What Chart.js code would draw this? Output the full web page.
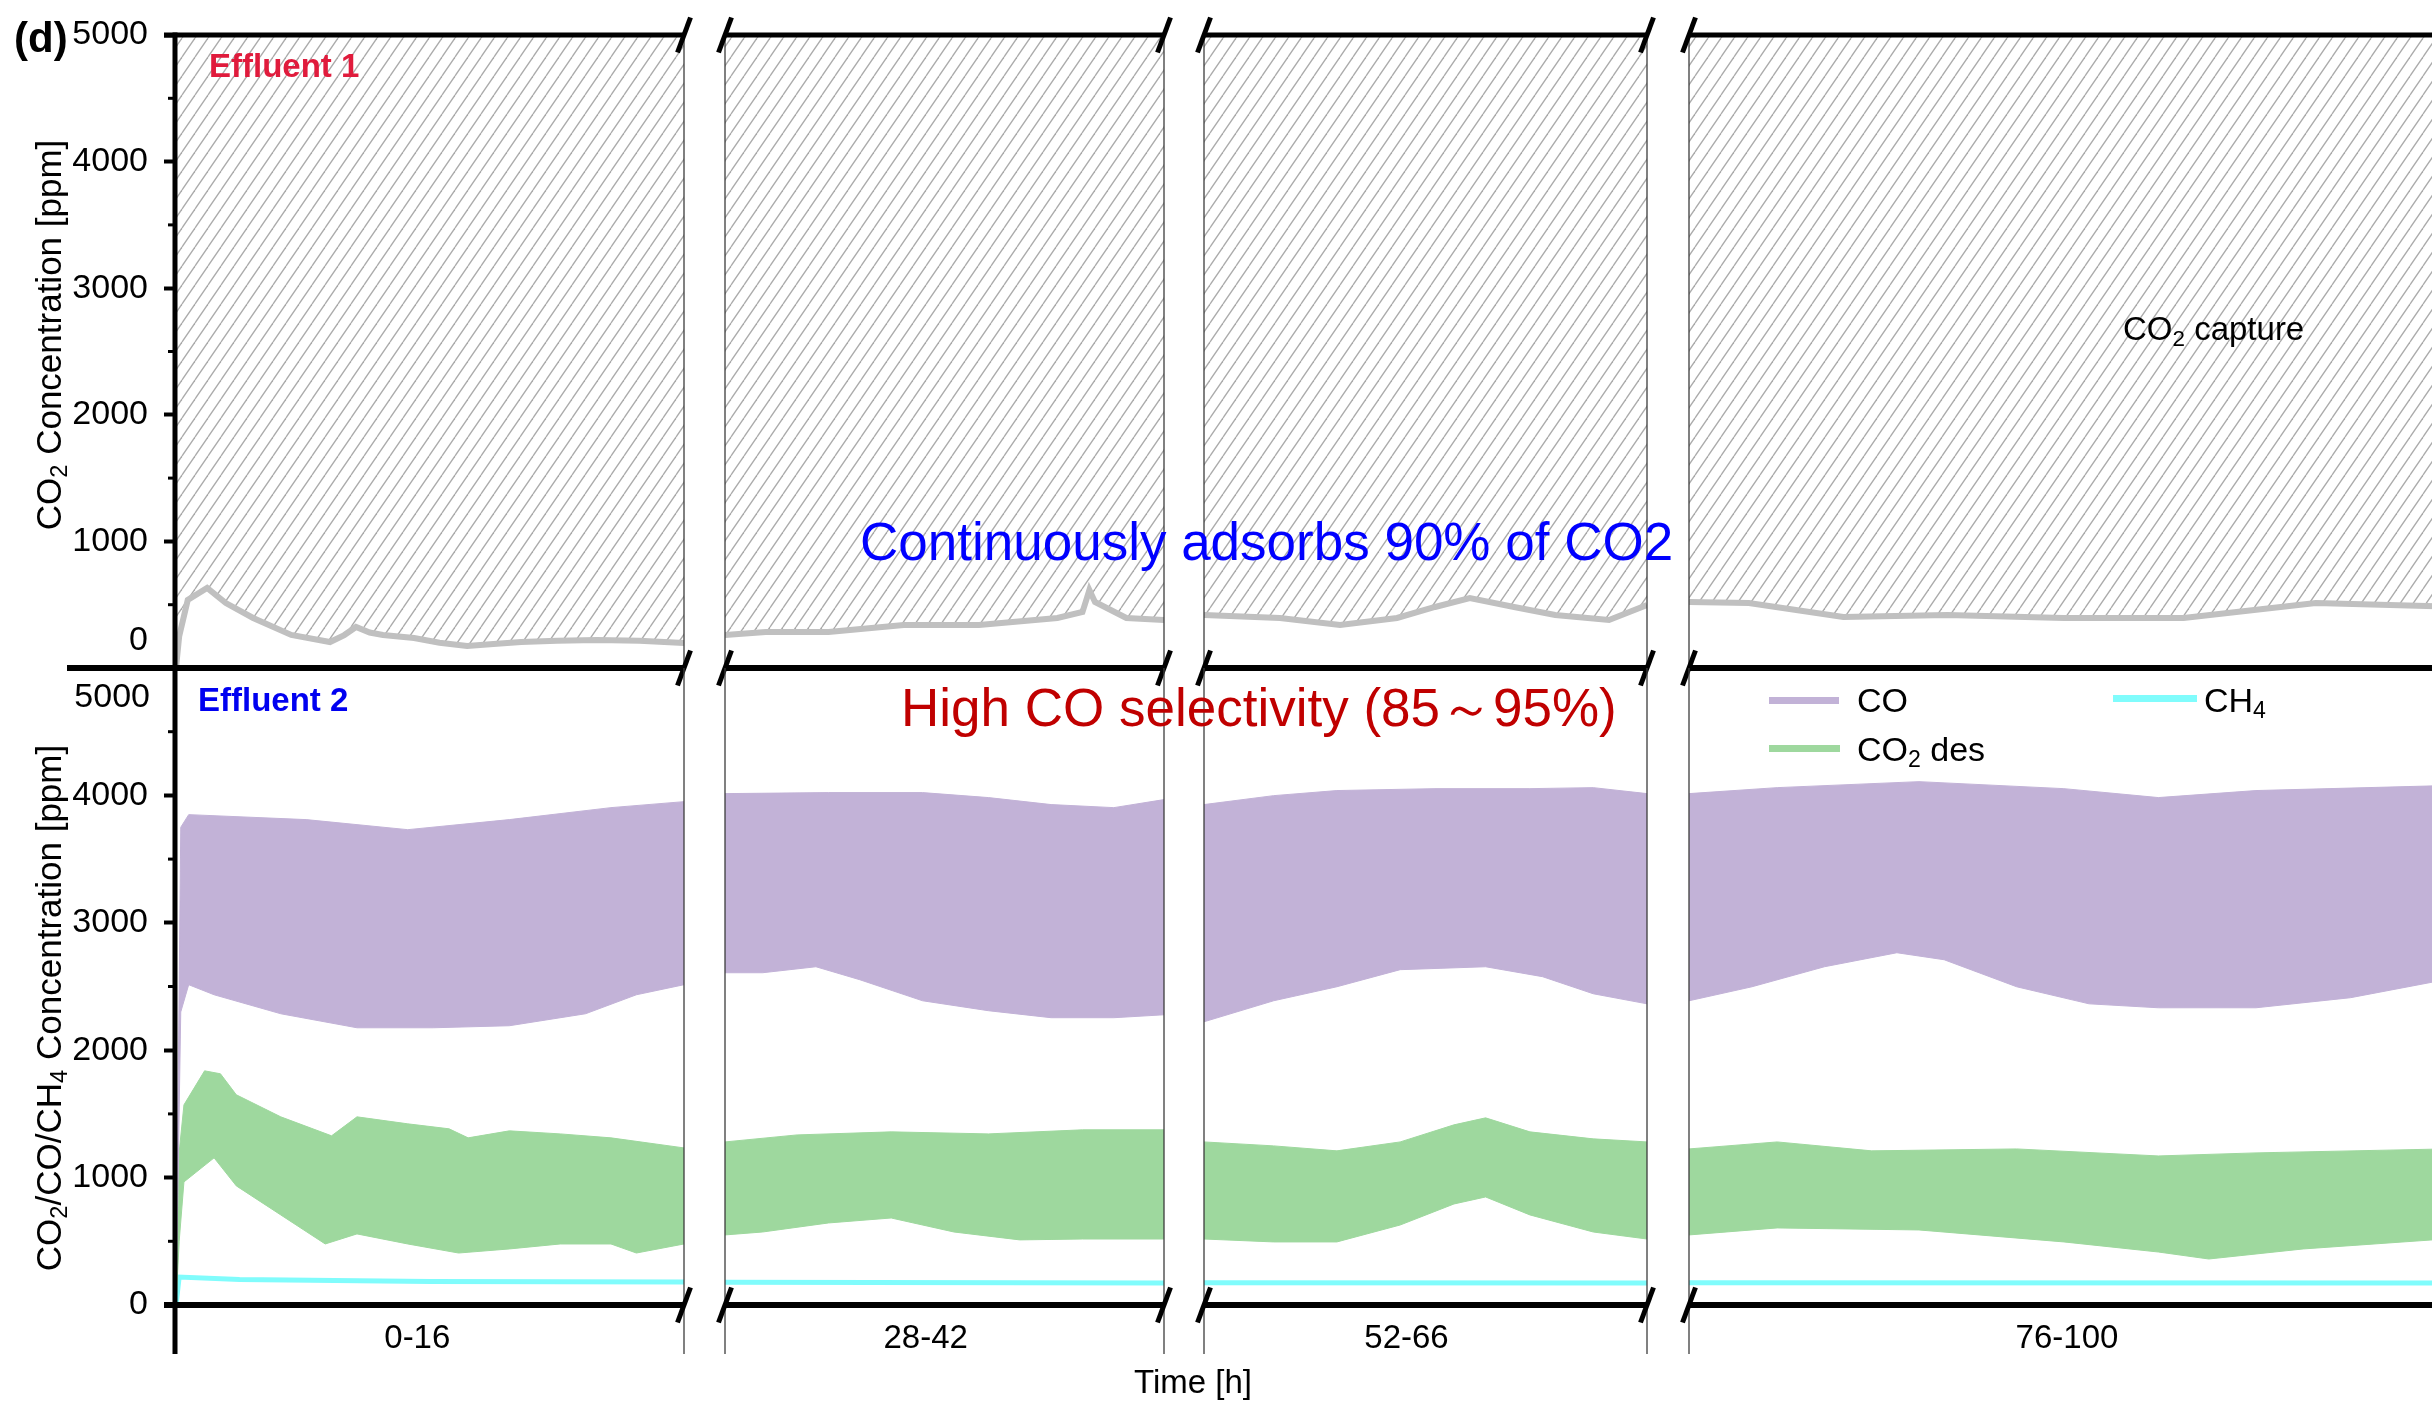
<!DOCTYPE html>
<html>
<head>
<meta charset="utf-8">
<script src="https://cdn.jsdelivr.net/npm/chart.js@4.4.1/dist/chart.umd.min.js"></script>
<style>
html, body { margin: 0; padding: 0; background: #fff; overflow: hidden; width: 2432px; height: 1401px; }
body { position: relative; font-family: "Liberation Sans", Arial, sans-serif; }
canvas { position: absolute; }
.txt { position: absolute; white-space: nowrap; line-height: 1; color: #000; z-index: 5; }
.txt sub { font-size: 0.68em; vertical-align: -0.28em; line-height: 0; }
.sw { position: absolute; height: 7px; z-index: 5; }
</style>
</head>
<body>

<div class="txt" style="left:14px;top:38px;font-size:42px;font-weight:bold;transform:translateY(-50%)">(d)</div>
<div class="txt" style="left:209px;top:65px;font-size:33px;font-weight:bold;color:#e01b3c;transform:translateY(-50%)">Effluent 1</div>
<div class="txt" style="left:198px;top:699px;font-size:33px;font-weight:bold;color:#0000f0;transform:translateY(-50%)">Effluent 2</div>
<div class="txt" style="left:860px;top:541px;font-size:53px;color:#0000ff;transform:translateY(-50%)">Continuously adsorbs 90% of CO2</div>
<div class="txt" style="left:901px;top:707px;font-size:53px;color:#c00000;transform:translateY(-50%)">High CO selectivity (85～95%)</div>
<div class="txt" style="left:2123px;top:328px;font-size:33px;transform:translateY(-50%)">CO<sub>2</sub> capture</div>
<div class="txt" style="left:1193px;top:1381px;font-size:33px;transform:translate(-50%,-50%)">Time [h]</div>
<div class="txt" style="left:48px;top:335px;font-size:35px;transform:translate(-50%,-50%) rotate(-90deg)">CO<sub>2</sub> Concentration [ppm]</div>
<div class="txt" style="left:48px;top:1008px;font-size:35px;transform:translate(-50%,-50%) rotate(-90deg)">CO<sub>2</sub>/CO/CH<sub>4</sub> Concentration [ppm]</div>

<div class="sw" id="swCO" style="left:1769px;top:697px;width:70px"></div>
<div class="txt" style="left:1857px;top:700px;font-size:34px;transform:translateY(-50%)">CO</div>
<div class="sw" id="swCO2" style="left:1769px;top:745px;width:71px"></div>
<div class="txt" style="left:1857px;top:749px;font-size:34px;transform:translateY(-50%)">CO<sub>2</sub> des</div>
<div class="sw" id="swCH4" style="left:2113px;top:695px;width:84px"></div>
<div class="txt" style="left:2204px;top:700px;font-size:34px;transform:translateY(-50%)">CH<sub>4</sub></div>

<script>
// x segments of the broken time axis (hours) and their labels
const segments = [[0, 16], [28, 42], [52, 66], [76, 100]];
const segLabels = ['0-16', '28-42', '52-66', '76-100'];
const segLabelAt = [7.6, 34.4, 58.4, 88];
const minorTicks = [500, 1500, 2500, 3500, 4500];

// Effluent 1: CO2 after capture [hour, ppm]
const effluent1 = [
    [0, 0], [0.1, 250], [0.37, 537], [0.98, 632], [1.57, 513], [2.43, 395], [3.63, 261], [4.85, 205],
    [5.3, 260], [5.67, 324], [6.1, 280], [6.52, 261], [7.5, 237], [8.3, 200], [9.17, 174], [10, 190],
    [10.87, 205], [12, 215], [13.26, 221], [14.6, 215], [16, 197],
    [28, 261], [29.3, 284], [31.3, 284], [33.7, 340], [36.1, 340], [38.6, 395], [39.4, 442],
    [39.55, 560], [39.62, 616], [39.8, 521], [40.8, 395], [42, 379],
    [52, 419], [54.4, 395], [56.3, 340], [58.1, 395], [59.3, 482], [60.4, 553], [61.8, 482],
    [63.1, 419], [64.8, 379], [66, 498],
    [76, 521], [77.9, 513], [80.9, 403], [84.2, 419], [87.9, 395], [91.7, 395], [95.9, 513], [100, 485]
];

// Effluent 2: upper / lower envelopes of the cycling signals [hour, ppm]
const coUpper = [
    [0, 0], [0.15, 3750], [0.4, 3849], [4.1, 3810], [7.3, 3731], [10.5, 3810], [13.7, 3904], [16, 3951],
    [28, 4014], [31.3, 4022], [34.3, 4022], [36.4, 3983], [38.4, 3928], [40.4, 3904], [42, 3967],
    [52, 3928], [54.2, 3998], [56.2, 4038], [59.3, 4053], [62.3, 4053], [64.3, 4061], [66, 4014],
    [76, 4014], [78.8, 4061], [83.3, 4108], [87.9, 4053], [90.9, 3983], [94, 4038], [100, 4077]
];
const coLower = [
    [0, 0], [0.15, 2300], [0.4, 2514], [1.2, 2435], [3.3, 2286], [5.7, 2176], [8.1, 2176], [10.5, 2192],
    [12.9, 2286], [14.5, 2435], [16, 2514],
    [28, 2608], [29.2, 2608], [30.9, 2655], [32.3, 2553], [34.3, 2388], [36.4, 2310], [38.4, 2255],
    [40.4, 2255], [42, 2278],
    [52, 2223], [54.2, 2388], [56.2, 2498], [58.2, 2632], [60.9, 2655], [62.7, 2577], [64.3, 2443], [66, 2364],
    [76, 2388], [78, 2498], [80.3, 2655], [82.6, 2765], [84.1, 2710], [86.4, 2498], [88.7, 2364],
    [90.9, 2333], [94, 2333], [97, 2412], [100, 2553]
];
const co2Upper = [
    [0, 0], [0.1, 1200], [0.25, 1571], [0.9, 1838], [1.4, 1815], [1.9, 1650], [3.3, 1477], [4.9, 1328],
    [5.7, 1477], [7.3, 1422], [8.6, 1383], [9.2, 1312], [10.5, 1367], [12.1, 1343], [13.7, 1312], [16, 1233],
    [28, 1280], [30.3, 1335], [33.3, 1359], [36.4, 1343], [39.4, 1375], [42, 1375],
    [52, 1280], [54.2, 1249], [56.2, 1210], [58.2, 1280], [59.9, 1414], [60.9, 1469], [62.3, 1359],
    [64.3, 1304], [66, 1280],
    [76, 1225], [78.8, 1280], [81.8, 1210], [86.4, 1225], [90.9, 1170], [94, 1194], [100, 1225]
];
const co2Lower = [
    [0, 0], [0.1, 500], [0.25, 966], [1.2, 1155], [1.9, 935], [3.3, 707], [4.7, 479], [5.7, 558],
    [7.3, 479], [8.9, 408], [10.5, 440], [12.1, 479], [13.7, 479], [14.5, 408], [16, 479],
    [28, 550], [29.2, 573], [31.3, 644], [33.3, 683], [35.3, 573], [37.4, 511], [39.4, 518], [42, 518],
    [52, 518], [54.2, 495], [56.2, 495], [58.2, 628], [59.9, 793], [60.9, 848], [62.3, 707], [64.3, 573], [66, 518],
    [76, 550], [78.8, 605], [83.3, 589], [87.9, 495], [90.9, 416], [92.5, 361], [95.5, 440], [100, 518]
];
const ch4 = [
    [0, 0], [0.1, 220], [2, 200], [8, 185], [16, 180],
    [28, 178], [42, 173],
    [52, 175], [66, 173],
    [76, 175], [100, 173]
];

const colours = { gray: '#c0c0c0', co: '#c2b2d7', co2: '#9ed89e', ch4: '#80fcfc', hatch: '#ababab' };
const FONT = '"Liberation Sans", Arial, sans-serif';

document.getElementById('swCO').style.background = colours.co;
document.getElementById('swCO2').style.background = colours.co2;
document.getElementById('swCH4').style.background = colours.ch4;

// where each segment's plot area sits on the page
const areaX = [[176, 684], [725, 1164], [1204, 1647], [1689, 2445]];

function inSeg(points, seg) {
    return points.filter(p => p[0] >= seg[0] && p[0] <= seg[1]).map(p => ({ x: p[0], y: p[1] }));
}

function hatchPattern(ctx) {
    const tile = document.createElement('canvas');
    tile.width = 13;
    tile.height = 19;
    const t = tile.getContext('2d');
    t.strokeStyle = colours.hatch;
    t.lineWidth = 1.3;
    for (const off of [-13, 0, 13]) {
        t.beginPath();
        t.moveTo(off, 19);
        t.lineTo(off + 13, 0);
        t.stroke();
    }
    return ctx.createPattern(tile, 'repeat');
}

// axis frame, break marks, minor ticks, shifted end labels
const framePlugin = {
    id: 'frame',
    afterDatasetsDraw(chart, args, opts) {
        const ctx = chart.ctx;
        const a = chart.chartArea;
        const row = opts.row;
        const seg = opts.seg;
        const below = row === 'bottom' ? 49 : 0;
        ctx.save();
        ctx.lineCap = 'butt';

        ctx.strokeStyle = '#3c3c3c';
        ctx.lineWidth = 1.3;
        if (seg > 0) {
            ctx.beginPath(); ctx.moveTo(a.left, a.top); ctx.lineTo(a.left, a.bottom + below); ctx.stroke();
        }
        if (seg < 3) {
            ctx.beginPath(); ctx.moveTo(a.right, a.top); ctx.lineTo(a.right, a.bottom + below); ctx.stroke();
        }

        ctx.strokeStyle = '#000';
        if (seg === 0) {
            ctx.lineWidth = 5;
            ctx.beginPath();
            ctx.moveTo(a.left - 1, a.top - 2.5);
            ctx.lineTo(a.left - 1, a.bottom + (row === 'bottom' ? below : 3));
            ctx.stroke();
            ctx.lineWidth = 3;
            const ys = chart.scales.y;
            for (const v of minorTicks) {
                const y = ys.getPixelForValue(v);
                ctx.beginPath(); ctx.moveTo(a.left - 8, y); ctx.lineTo(a.left, y); ctx.stroke();
            }
            ctx.fillStyle = '#000';
            ctx.font = '34px ' + FONT;
            ctx.textAlign = 'right';
            ctx.textBaseline = 'middle';
            if (row === 'top') ctx.fillText('0', a.left - 28, ys.getPixelForValue(0) - 27);
            else ctx.fillText('5000', a.left - 26, ys.getPixelForValue(5000) + 30);
        }

        const hLine = (y, w, x0) => {
            ctx.lineWidth = w;
            ctx.beginPath(); ctx.moveTo(x0, y); ctx.lineTo(a.right, y); ctx.stroke();
        };
        if (row === 'top') {
            hLine(a.top, 5, seg === 0 ? a.left - 12 : a.left);
            hLine(a.bottom, 6, seg === 0 ? 67 : a.left);
        } else {
            hLine(a.bottom, 6, seg === 0 ? a.left - 12 : a.left);
        }

        const mark = (x, y) => {
            ctx.lineWidth = 5;
            ctx.beginPath(); ctx.moveTo(x - 6.5, y + 17.5); ctx.lineTo(x + 6.5, y - 17.5); ctx.stroke();
        };
        const ys = row === 'top' ? [a.top, a.bottom] : [a.bottom];
        for (const y of ys) {
            if (seg > 0) mark(a.left, y);
            if (seg < 3) mark(a.right, y);
        }
        ctx.restore();
    }
};

function makeChart(row, i) {
    const seg = segments[i];
    const x0 = areaX[i][0];
    const x1 = areaX[i][1];
    const left = i === 0 ? 0 : x0 - 20;
    const width = x1 + 20 - left;
    const top = row === 'top' ? 0 : 640;
    const height = row === 'top' ? 692 : 761;

    const canvas = document.createElement('canvas');
    canvas.width = width;
    canvas.height = height;
    canvas.style.left = left + 'px';
    canvas.style.top = top + 'px';
    document.body.appendChild(canvas);
    const ctx = canvas.getContext('2d');

    let datasets;
    if (row === 'top') {
        datasets = [{
            label: 'CO2',
            data: inSeg(effluent1, seg),
            borderColor: colours.gray,
            borderWidth: 6,
            backgroundColor: hatchPattern(ctx),
            fill: 'end'
        }];
    } else {
        datasets = [
            { label: 'CO', data: inSeg(coUpper, seg), borderColor: colours.co, backgroundColor: colours.co, borderWidth: 1, fill: '+1' },
            { label: 'CO low', data: inSeg(coLower, seg), borderColor: colours.co, borderWidth: 1, fill: false },
            { label: 'CO2 des', data: inSeg(co2Upper, seg), borderColor: colours.co2, backgroundColor: colours.co2, borderWidth: 1, fill: '+1' },
            { label: 'CO2 low', data: inSeg(co2Lower, seg), borderColor: colours.co2, borderWidth: 1, fill: false },
            { label: 'CH4', data: inSeg(ch4, seg), borderColor: colours.ch4, borderWidth: 5, fill: false }
        ];
    }

    new Chart(canvas, {
        type: 'line',
        data: { datasets: datasets },
        options: {
            responsive: false,
            animation: false,
            devicePixelRatio: 1,
            elements: { point: { radius: 0 }, line: { tension: 0 } },
            layout: {
                padding: {
                    left: i === 0 ? 0 : 20,
                    right: 20,
                    top: row === 'top' ? 35 : 28,
                    bottom: row === 'top' ? 24 : 0
                }
            },
            plugins: {
                legend: { display: false },
                tooltip: { enabled: false },
                frame: { row: row, seg: i }
            },
            scales: {
                x: {
                    type: 'linear',
                    min: seg[0],
                    max: seg[1],
                    display: row === 'bottom',
                    afterBuildTicks: axis => { axis.ticks = [{ value: segLabelAt[i] }]; },
                    afterFit: s => {
                        s.height = row === 'bottom' ? 96 : 0;
                        s.paddingLeft = 0;
                        s.paddingRight = 0;
                    },
                    ticks: {
                        autoSkip: false,
                        maxRotation: 0,
                        color: '#000',
                        font: { family: FONT, size: 33 },
                        padding: 14,
                        callback: () => segLabels[i]
                    },
                    grid: { display: false, drawTicks: false },
                    border: { display: false }
                },
                y: {
                    type: 'linear',
                    min: 0,
                    max: 5000,
                    display: i === 0,
                    afterFit: s => {
                        s.width = i === 0 ? x0 - left : 0;
                        s.paddingTop = 0;
                        s.paddingBottom = 0;
                    },
                    ticks: {
                        stepSize: 1000,
                        color: '#000',
                        font: { family: FONT, size: 34 },
                        padding: 16,
                        callback: v => ((row === 'top' && v === 0) || (row === 'bottom' && v === 5000)) ? '' : v
                    },
                    grid: { drawOnChartArea: false, tickLength: 12, tickWidth: 4, tickColor: '#000', color: '#000' },
                    border: { display: false }
                }
            }
        },
        plugins: [framePlugin]
    });
}

for (let i = 0; i < 4; i++) makeChart('top', i);
for (let i = 0; i < 4; i++) makeChart('bottom', i);
</script>
</body>
</html>
